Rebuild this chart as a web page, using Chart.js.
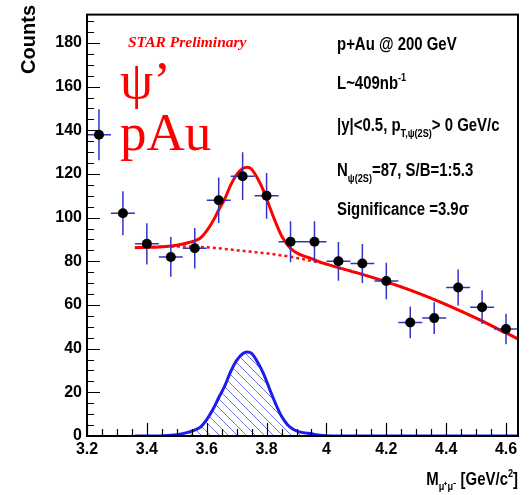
<!DOCTYPE html>
<html>
<head>
<meta charset="utf-8">
<script src="https://cdn.jsdelivr.net/npm/chart.js@4.4.1/dist/chart.umd.min.js"></script>
<style>
  html, body { margin: 0; padding: 0; background: #fff; }
  canvas { display: block; }
</style>
</head>
<body>
<canvas id="massChart" width="529" height="495"></canvas>
<script>
// Dimuon invariant mass histogram, bin centres and counts
const binCenters = [3.24, 3.32, 3.40, 3.48, 3.56, 3.64, 3.72, 3.80, 3.88, 3.96,
                    4.04, 4.12, 4.20, 4.28, 4.36, 4.44, 4.52, 4.60];
const binCounts  = [138, 102, 88, 82, 86, 108, 119, 110, 89, 89,
                    80, 79, 71, 52, 54, 68, 59, 49];
const binErrors  = [11.7, 10.1, 9.4, 9.1, 9.3, 10.4, 10.9, 10.5, 9.4, 9.4,
                    8.9, 8.9, 8.4, 7.2, 7.3, 8.2, 7.7, 7.0];
const binHalfWidth = 0.04;

// Fit curves sampled along the mass axis
const curveMass = [3.36, 3.40, 3.44, 3.48, 3.50, 3.52, 3.54, 3.56, 3.58, 3.60,
                   3.62, 3.64, 3.66, 3.68, 3.70, 3.72, 3.735, 3.75, 3.77, 3.79,
                   3.81, 3.83, 3.85, 3.87, 3.89, 3.91, 3.95, 3.98, 4.02, 4.10,
                   4.20, 4.30, 4.40, 4.50, 4.60, 4.64];
const backgroundFit = [86.2, 86.4, 86.6, 86.7, 86.8, 86.8, 86.8, 86.7, 86.6, 86.4,
                       86.2, 86.0, 85.7, 85.4, 85.1, 84.8, 84.6, 84.4, 84.1, 83.8,
                       83.5, 83.1, 82.7, 82.3, 81.8, 81.3, 80.2, 79.3, 77.9, 74.8,
                       70.6, 65.8, 60.2, 54.0, 47.2, 44.5];
const signalFit = [0, 0, 0, 0.3, 0.6, 1.1, 1.8, 2.7, 4.2, 7.5,
                   12.0, 17.5, 22.8, 29.5, 34.6, 37.7, 38.5, 37.8, 33.8, 28.5,
                   21.5, 14.8, 9.0, 5.2, 3.0, 1.9, 1.0, 0.3, 0, 0,
                   0, 0, 0, 0, 0, 0];
const totalFit = [86.2, 86.4, 86.6, 87.0, 87.4, 87.9, 88.6, 89.4, 90.8, 93.9,
                  98.2, 103.5, 108.5, 114.9, 119.7, 122.5, 123.1, 122.2, 117.9, 112.3,
                  105.0, 97.9, 91.7, 87.5, 84.8, 83.2, 81.2, 79.6, 77.9, 74.8,
                  70.6, 65.8, 60.2, 54.0, 47.2, 44.5];

// Axis ranges and tick steps
const xRange = [3.2, 4.64];
const yRange = [0, 193];
const xMajorStep = 0.2, xMinorStep = 0.05;
const yMajorStep = 20, yMinorStep = 5;

// pick a condensed sans if one is installed, otherwise squeeze the regular one
function hasFont(name) {
  const c = document.createElement('canvas').getContext('2d');
  const probe = 'Significance 0123456789';
  c.font = 'bold 40px monospace';
  const a = c.measureText(probe).width;
  c.font = 'bold 40px "' + name + '", monospace';
  return c.measureText(probe).width !== a;
}
const narrow = hasFont('Liberation Sans Narrow');
const SANS = narrow ? '"Liberation Sans Narrow"' : '"Liberation Sans", Arial';
const SQUEEZE = narrow ? 1 : 0.83;

const pts = (xs, ys) => xs.map((x, i) => ({ x: x, y: ys[i] }));

// diagonal hatching for the signal peak
function makeHatch() {
  const s = 9;
  const c = document.createElement('canvas');
  c.width = s; c.height = s;
  const g = c.getContext('2d');
  g.strokeStyle = '#7474ea';
  g.lineWidth = 1;
  g.beginPath();
  g.moveTo(-1, -1); g.lineTo(s + 1, s + 1);
  g.moveTo(-1, s - 1); g.lineTo(1, s + 1);
  g.moveTo(s - 1, -1); g.lineTo(s + 1, 1);
  g.stroke();
  return g.createPattern(c, 'repeat');
}

// draw a run of text pieces (plain, sub, sup) starting at x,y
function richWidth(ctx, parts, weight, family) {
  let w = 0;
  parts.forEach(p => {
    ctx.font = weight + ' ' + (p.size || 18) + 'px ' + family;
    w += ctx.measureText(p.t).width;
  });
  return w;
}
function drawRich(ctx, x, y, parts, opts) {
  const weight = opts.weight || 'bold';
  const family = opts.family || SANS;
  const sx = opts.sx || 1;
  ctx.save();
  ctx.translate(x, y);
  ctx.scale(sx, 1);
  ctx.fillStyle = opts.color || '#000';
  ctx.textBaseline = 'alphabetic';
  ctx.textAlign = 'left';
  let cx = opts.align === 'right' ? -richWidth(ctx, parts, weight, family) : 0;
  parts.forEach(p => {
    ctx.font = weight + ' ' + (p.size || 18) + 'px ' + family;
    ctx.fillText(p.t, cx, p.dy || 0);
    cx += ctx.measureText(p.t).width;
  });
  ctx.restore();
}

const frameAndLabels = {
  id: 'frameAndLabels',
  beforeDatasetDraw(chart, args) {
    // error bars sit under the markers
    if (args.index !== 3) return;
    const { ctx, scales: { x, y } } = chart;
    ctx.save();
    ctx.strokeStyle = '#3434c4';
    ctx.lineWidth = 1.5;
    ctx.beginPath();
    binCenters.forEach((m, i) => {
      const px = x.getPixelForValue(m), py = y.getPixelForValue(binCounts[i]);
      ctx.moveTo(x.getPixelForValue(m - binHalfWidth), py);
      ctx.lineTo(x.getPixelForValue(m + binHalfWidth), py);
      ctx.moveTo(px, y.getPixelForValue(binCounts[i] - binErrors[i]));
      ctx.lineTo(px, y.getPixelForValue(binCounts[i] + binErrors[i]));
    });
    ctx.stroke();
    ctx.restore();
  },
  afterDraw(chart) {
    const { ctx, chartArea: a, scales: { x, y } } = chart;
    ctx.save();
    // ticks pointing into the frame
    ctx.strokeStyle = '#000';
    ctx.lineWidth = 1.2;
    ctx.beginPath();
    for (let k = 0; xRange[0] + k * xMinorStep <= xRange[1] + 1e-9; k++) {
      const v = xRange[0] + k * xMinorStep;
      const len = (k % 4 === 0) ? 13 : 7;
      const px = Math.round(x.getPixelForValue(v)) + 0.5;
      ctx.moveTo(px, a.bottom);
      ctx.lineTo(px, a.bottom - len);
    }
    for (let k = 0; yRange[0] + k * yMinorStep <= yRange[1]; k++) {
      const v = yRange[0] + k * yMinorStep;
      const len = (k % 4 === 0) ? 13 : 7;
      const py = Math.round(y.getPixelForValue(v)) + 0.5;
      ctx.moveTo(a.left, py);
      ctx.lineTo(a.left + len, py);
    }
    ctx.stroke();
    ctx.lineWidth = 2;
    ctx.strokeRect(a.left, a.top, a.right - a.left, a.bottom - a.top);
    ctx.restore();

    // axis titles
    ctx.save();
    ctx.translate(35, 5);
    ctx.rotate(-Math.PI / 2);
    ctx.font = 'bold 20px "Liberation Sans", Arial';
    ctx.fillStyle = '#000';
    ctx.textAlign = 'right';
    ctx.fillText('Counts', 0, 0);
    ctx.restore();

    drawRich(ctx, a.right, 485, [
      { t: 'M' }, { t: 'μ⁺μ⁻', size: 11, dy: 5 }, { t: ' [GeV/c' },
      { t: '2', size: 11, dy: -8 }, { t: ']' }
    ], { align: 'right', sx: SQUEEZE });

    // run description
    const tx = 337;
    drawRich(ctx, tx, 50, [{ t: 'p+Au @ 200 GeV' }], { sx: SQUEEZE });
    drawRich(ctx, tx, 89, [{ t: 'L~409nb' }, { t: '-1', size: 11, dy: -8 }], { sx: SQUEEZE });
    drawRich(ctx, tx, 131, [
      { t: '|y|<0.5, p' }, { t: 'T,ψ(2S)', size: 11, dy: 6 }, { t: '> 0 GeV/c' }
    ], { sx: SQUEEZE });
    drawRich(ctx, tx, 176, [
      { t: 'N' }, { t: 'ψ(2S)', size: 11, dy: 6 }, { t: '=87, S/B=1:5.3' }
    ], { sx: SQUEEZE });
    drawRich(ctx, tx, 215, [{ t: 'Significance =3.9σ' }], { sx: SQUEEZE });

    // experiment tag and particle label
    drawRich(ctx, 128, 47, [{ t: 'STAR Preliminary', size: 15.5 }],
      { weight: 'italic bold', family: '"Liberation Serif", serif', color: '#f00' });
    drawRich(ctx, 120, 98, [{ t: 'ψ’', size: 53 }],
      { weight: 'normal', family: '"Liberation Serif", serif', color: '#f00' });
    drawRich(ctx, 120, 150, [{ t: 'pAu', size: 53 }],
      { weight: 'normal', family: '"Liberation Serif", serif', color: '#f00' });
  }
};

const tickFont = narrow ? { family: SANS, size: 18, weight: 'bold' }
                        : { family: SANS, size: 16, weight: 'bold' };
const fmt = v => String(Number(v.toFixed(2)));

const chart = new Chart(document.getElementById('massChart').getContext('2d'), {
  type: 'line',
  data: {
    datasets: [
      {
        label: 'signal',
        data: pts(curveMass, signalFit),
        borderColor: '#1c1cf0',
        borderWidth: 3,
        backgroundColor: makeHatch(),
        fill: 'origin',
        pointRadius: 0,
        cubicInterpolationMode: 'monotone',
        order: 4
      },
      {
        label: 'background',
        data: pts(curveMass, backgroundFit),
        borderColor: '#ff1010',
        borderWidth: 2.5,
        borderDash: [3, 3],
        fill: false,
        pointRadius: 0,
        cubicInterpolationMode: 'monotone',
        order: 3
      },
      {
        label: 'total',
        data: pts(curveMass, totalFit),
        borderColor: '#ff0000',
        borderWidth: 3,
        fill: false,
        pointRadius: 0,
        cubicInterpolationMode: 'monotone',
        order: 2
      },
      {
        label: 'data',
        data: pts(binCenters, binCounts),
        showLine: false,
        pointRadius: 5,
        pointBackgroundColor: '#000',
        pointBorderWidth: 0,
        order: 1
      }
    ]
  },
  options: {
    responsive: false,
    animation: false,
    layout: { padding: { top: 4, right: 11, left: 0, bottom: 0 } },
    plugins: { legend: { display: false }, tooltip: { enabled: false } },
    scales: {
      x: {
        type: 'linear',
        min: xRange[0],
        max: xRange[1],
        grid: { display: false, drawTicks: false },
        border: { display: false },
        ticks: {
          stepSize: xMajorStep, includeBounds: false, autoSkip: false, maxRotation: 0,
          padding: 4, color: '#000', font: tickFont, callback: fmt
        },
        afterFit: s => { s.height = 59; }
      },
      y: {
        min: yRange[0],
        max: yRange[1],
        grid: { display: false, drawTicks: false },
        border: { display: false },
        ticks: {
          stepSize: yMajorStep, includeBounds: false, padding: 5,
          color: '#000', font: tickFont, callback: fmt
        },
        afterFit: s => { s.width = 87; }
      }
    }
  },
  plugins: [frameAndLabels]
});
</script>
</body>
</html>
